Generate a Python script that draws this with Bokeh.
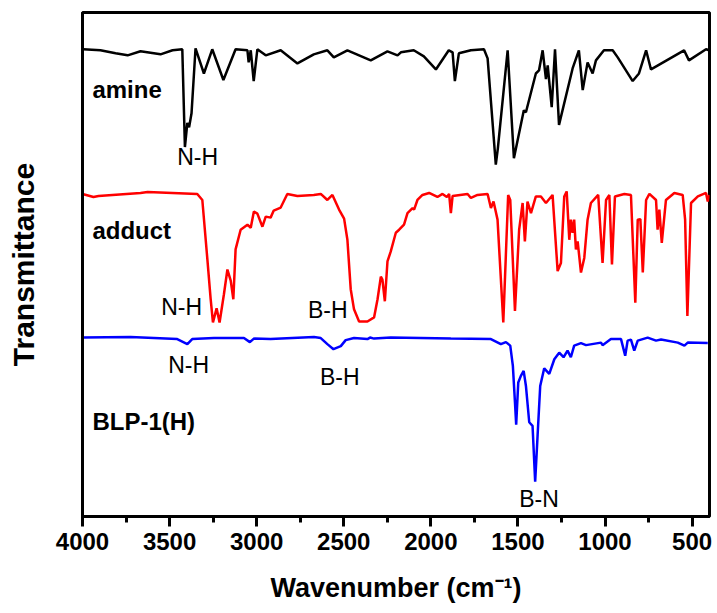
from bokeh.plotting import figure
from bokeh.models import Range1d, SingleIntervalTicker, FixedTicker
from bokeh.core.properties import value
from bokeh.embed import file_html
from bokeh.resources import INLINE

# ---- data (wavenumber, transmittance a.u. with offsets) ----
amine_wn = [3996, 3897, 3810, 3741, 3667, 3552, 3483, 3427, 3412, 3398, 3388, 3374, 3351, 3303, 3255, 3191,
            3121, 3053, 3046, 3034, 3017, 2996, 2948, 2862, 2766, 2672, 2594, 2557, 2479, 2345, 2249, 2191,
            2172, 2098, 2040, 1971, 1897, 1875, 1862, 1839, 1770, 1695, 1674, 1627, 1615, 1559, 1523, 1466,
            1454, 1397, 1379, 1358, 1339, 1329, 1306, 1287, 1264, 1186, 1150, 1128, 1100, 1071, 1052, 1006,
            956, 927, 841, 805, 764, 736, 546, 518, 420, 402]
amine_t = [92.7, 92.5, 91.9, 91.5, 92.3, 91.7, 92.5, 92.7, 73.3, 78.1, 77.2, 80.0, 92.9, 87.9, 92.7, 86.6,
           92.7, 92.5, 90.1, 92.5, 86.4, 92.7, 91.5, 92.5, 89.9, 91.7, 92.5, 91.1, 92.5, 90.5, 92.3, 91.5,
           92.1, 92.5, 91.3, 88.7, 92.5, 92.1, 86.4, 91.9, 92.5, 92.7, 90.9, 69.8, 73.1, 92.5, 71.1, 80.6,
           80.2, 87.9, 88.5, 92.5, 86.8, 89.5, 81.2, 92.7, 77.7, 88.9, 92.5, 84.6, 90.1, 87.9, 90.5, 92.5,
           92.5, 91.1, 86.4, 87.9, 92.5, 88.7, 92.5, 90.5, 92.7, 92.5]

adduct_wn = [4000, 3937, 3908, 3667, 3626, 3341, 3312, 3283, 3264, 3251, 3230, 3213, 3188, 3168, 3149, 3134,
             3121, 3092, 3053, 3034, 3016, 2996, 2967, 2948, 2920, 2902, 2862, 2824, 2766, 2672, 2632, 2594,
             2565, 2527, 2498, 2479, 2460, 2441, 2412, 2364, 2326, 2306, 2287, 2278, 2264, 2249, 2230, 2201,
             2182, 2154, 2134, 2105, 2096, 2077, 2048, 2010, 1962, 1933, 1908, 1895, 1885, 1875, 1789, 1770,
             1732, 1674, 1655, 1640, 1617, 1584, 1556, 1544, 1517, 1493, 1473, 1460, 1445, 1425, 1397, 1368,
             1339, 1301, 1272, 1253, 1234, 1220, 1205, 1196, 1186, 1177, 1167, 1157, 1138, 1119, 1100, 1081,
             1039, 1014, 994, 975, 960, 943, 889, 851, 826, 812, 797, 783, 764, 745, 707, 698,
             688, 674, 650, 602, 554, 540, 527, 506, 467, 420, 410, 401]
adduct_t = [64.0, 63.4, 63.6, 64.2, 64.4, 64.0, 62.8, 51.0, 43.1, 38.5, 41.3, 38.5, 44.1, 49.0, 46.8, 43.1,
            53.0, 56.9, 57.9, 57.3, 60.5, 60.1, 57.5, 59.5, 59.3, 60.7, 61.3, 64.0, 63.6, 63.8, 64.0, 62.8,
            63.8, 60.9, 59.1, 54.9, 45.1, 41.1, 38.7, 38.7, 39.5, 43.1, 47.6, 47.0, 42.7, 50.6, 52.6, 56.3,
            56.9, 57.9, 60.2, 61.2, 60.9, 62.8, 63.8, 64.2, 63.4, 64.0, 63.4, 64.0, 60.2, 63.6, 64.0, 63.2,
            63.8, 64.0, 61.2, 62.5, 58.9, 38.5, 63.8, 62.8, 40.8, 56.9, 62.2, 54.6, 62.5, 60.2, 63.5, 63.5,
            62.2, 63.8, 48.7, 50.3, 63.5, 64.5, 54.9, 58.9, 56.3, 58.9, 53.0, 54.6, 48.4, 51.3, 58.9, 62.2,
            63.8, 50.3, 62.8, 63.8, 50.0, 63.5, 64.0, 63.8, 42.4, 58.9, 59.0, 48.4, 62.8, 64.0, 62.8, 56.9,
            60.9, 54.3, 62.8, 64.2, 63.8, 58.9, 39.8, 62.2, 63.5, 64.2, 62.5, 63.8]

blp_wn = [4000, 3724, 3456, 3398, 3370, 3245, 3073, 3039, 3016, 2920, 2671, 2632, 2594, 2559, 2517, 2489,
          2441, 2364, 2349, 2326, 2230, 1885, 1655, 1598, 1569, 1544, 1529, 1517, 1510, 1498, 1483, 1467,
          1454, 1435, 1416, 1401, 1387, 1372, 1349, 1320, 1291, 1263, 1238, 1215, 1196, 1177, 1138, 1109,
          1023, 1014, 966, 908, 884, 870, 851, 832, 812, 755, 707, 678, 582, 544, 525, 410]
blp_t = [35.5, 35.6, 35.2, 34.2, 35.2, 35.4, 35.4, 34.6, 35.3, 35.2, 35.6, 35.4, 34.2, 33.2, 33.8, 35.0,
         35.4, 35.2, 35.5, 35.3, 35.5, 35.3, 35.2, 34.2, 34.6, 33.9, 29.9, 22.7, 18.2, 26.6, 27.9, 28.9,
         25.9, 18.7, 18.0, 6.9, 16.1, 25.9, 29.4, 28.3, 31.2, 32.5, 31.6, 32.9, 31.6, 33.9, 34.4, 34.0,
         34.5, 34.0, 35.2, 35.2, 31.9, 34.9, 35.1, 32.9, 34.9, 35.5, 34.9, 35.1, 34.5, 33.9, 34.5, 34.4]

series_names = ["amine", "adduct", "BLP-1(H)"]
series_colors = ["black", "red", "blue"]
name_wn = 3943
name_t = [84.8, 56.7, 18.8]

peak_labels = ["N-H", "N-H", "B-H", "N-H", "B-H", "B-N"]
peak_wn = [3339, 3431, 2592, 3391, 2523, 1379]
peak_t = [71.3, 41.5, 40.9, 30.0, 27.7, 3.4]

x_ticks_step = 500
y_title = "Transmittance"
x_title = "Wavenumber (cm\u207b\u00b9)"

FONT = "Liberation Sans"

p = figure(width=712, height=605, output_backend="svg", toolbar_location=None,
           x_range=Range1d(4000, 400), y_range=Range1d(0, 100),
           min_border_left=82, min_border_right=3, min_border_top=12, min_border_bottom=87)
p.xgrid.visible = False
p.ygrid.visible = False
p.outline_line_color = "black"
p.outline_line_width = 3
p.outline_line_alpha = 1.0
p.background_fill_color = "white"
p.border_fill_color = "white"

for wn, t, c in zip([amine_wn, adduct_wn, blp_wn], [amine_t, adduct_t, blp_t], series_colors):
    p.line(wn, t, line_color=c, line_width=2.5)

p.text(x=[name_wn] * 3, y=name_t, text=series_names, text_font=value(FONT), text_font_style="bold",
       text_font_size="24px", text_align="left", text_baseline="middle", text_color="black")
p.text(x=peak_wn, y=peak_t, text=peak_labels, text_font=value(FONT), text_font_style="normal",
       text_font_size="23px", text_align="center", text_baseline="middle", text_color="black")

xa = p.xaxis[0]
xa.ticker = SingleIntervalTicker(interval=x_ticks_step, num_minor_ticks=2)
xa.axis_line_width = 3
xa.axis_line_color = "black"
xa.major_tick_line_width = 3
xa.minor_tick_line_width = 3
xa.major_tick_out = 10
xa.major_tick_in = 0
xa.minor_tick_out = 6
xa.minor_tick_in = 0
xa.major_label_text_font = FONT
xa.major_label_text_font_style = "bold"
xa.major_label_text_font_size = "24px"
xa.major_label_text_color = "black"
xa.major_label_standoff = 6
xa.axis_label = x_title
xa.axis_label_text_font = FONT
xa.axis_label_text_font_style = "bold"
xa.axis_label_text_font_size = "27px"
xa.axis_label_text_color = "black"
xa.axis_label_standoff = 20

ya = p.yaxis[0]
ya.ticker = FixedTicker(ticks=[])
ya.axis_line_width = 3
ya.major_tick_out = 0
ya.major_tick_in = 0
ya.minor_tick_out = 0
ya.minor_tick_in = 0
ya.axis_label = y_title
ya.axis_label_text_font = FONT
ya.axis_label_text_font_style = "bold"
ya.axis_label_text_font_size = "30px"
ya.axis_label_text_color = "black"
ya.axis_label_standoff = 43

open("out.html", "w").write(file_html(p, INLINE))
